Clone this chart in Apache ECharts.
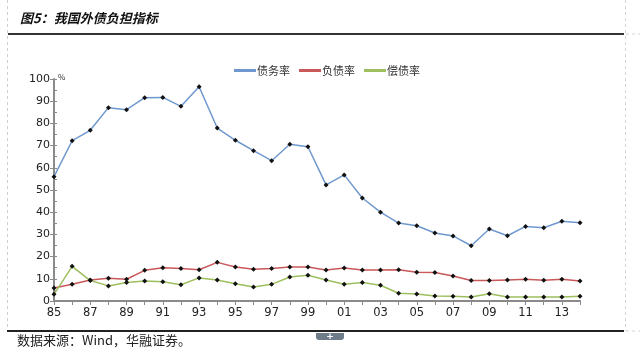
<!DOCTYPE html>
<html>
<head>
<meta charset="utf-8">
<script src="https://cdn.jsdelivr.net/npm/echarts@6/dist/echarts.min.js"></script>
<style>
  html, body { margin: 0; padding: 0; background: #fff; }
  #chart { width: 640px; height: 354px; }
</style>
</head>
<body>
<div id="chart"></div>
<script>
// years 1985 - 2014, labelled as two digits
const years = ["85","86","87","88","89","90","91","92","93","94","95","96","97","98","99",
  "00","01","02","03","04","05","06","07","08","09","10","11","12","13","14"];

// 债务率
const debtRatio = [56.0, 72.2, 76.9, 87.1, 86.2, 91.6, 91.7, 87.7, 96.5, 77.9, 72.4, 67.7, 63.2, 70.6, 69.5,
  52.3, 56.8, 46.4, 40.0, 35.1, 33.9, 30.6, 29.3, 24.9, 32.4, 29.4, 33.6, 33.0, 35.9, 35.3];

// 负债率
const liabilityRatio = [5.9, 7.5, 9.5, 10.2, 9.8, 13.8, 15.0, 14.6, 14.1, 17.4, 15.3, 14.3, 14.6, 15.3, 15.3,
  14.0, 14.9, 14.0, 14.0, 14.1, 12.9, 12.8, 11.3, 9.2, 9.2, 9.5, 9.8, 9.3, 9.8, 9.0];

// 偿债率
const serviceRatio = [3.0, 15.6, 9.2, 6.8, 8.3, 9.0, 8.7, 7.3, 10.4, 9.5, 7.8, 6.3, 7.5, 10.8, 11.6,
  9.5, 7.5, 8.3, 7.1, 3.5, 3.2, 2.3, 2.1, 1.8, 3.3, 1.8, 1.8, 1.8, 1.8, 2.1];

const seriesNames = ["债务率", "负债率", "偿债率"];
const seriesColors = ["#6f98cf", "#c9585a", "#9dbf5e"];

const chart = echarts.init(document.getElementById("chart"));

const makeSeries = (name, data, color) => ({
  name: name,
  type: "line",
  data: data,
  symbol: "diamond",
  symbolSize: 5,
  itemStyle: { color: "#111" },
  lineStyle: { color: color, width: 1.5 },
  emphasis: { disabled: true },
});

const option = {
  animation: false,
  textStyle: { fontFamily: "Noto Sans CJK SC, Noto Sans, sans-serif" },
  color: seriesColors,
  legend: {
    top: 60,
    left: 229,
    itemWidth: 22,
    itemHeight: 3,
    itemGap: 9,
    icon: "path://M0,0 L22,0 L22,3 L0,3 Z",
    textStyle: { fontSize: 11, color: "#333", padding: [0, 0, 0, -4] },
    data: seriesNames.map((n, i) => ({ name: n, itemStyle: { color: seriesColors[i] } })),
  },
  grid: { left: 54, right: 60, top: 79, bottom: 53 },
  xAxis: {
    type: "category",
    data: years,
    boundaryGap: false,
    axisLine: { lineStyle: { color: "#8a8a8a", width: 2 } },
    axisTick: { show: true, interval: 0, length: 4, lineStyle: { color: "#8a8a8a" } },
    axisLabel: { interval: 1, color: "#222", fontSize: 11.5, fontFamily: "DejaVu Sans", margin: 6 },
  },
  yAxis: [
    {
      type: "value",
      min: 0,
      max: 100,
      interval: 10,
      name: "%",
      nameLocation: "end",
      nameGap: -2,
      nameTextStyle: { fontSize: 8, color: "#333", align: "left", padding: [0, 0, 0, 4] },
      axisLine: { show: true, lineStyle: { color: "#8a8a8a", width: 2 } },
      axisTick: { show: true, length: 4, lineStyle: { color: "#8a8a8a" } },
      axisLabel: { color: "#222", fontSize: 11, fontFamily: "DejaVu Sans", margin: 4 },
      splitLine: { show: false },
    },
    {
      // inner minor ticks every 5
      type: "value",
      position: "left",
      min: 0,
      max: 100,
      interval: 5,
      axisLine: { show: false },
      axisTick: { show: true, inside: true, length: 3, lineStyle: { color: "#8a8a8a" } },
      axisLabel: { show: false },
      splitLine: { show: false },
    },
  ],
  series: [
    makeSeries(seriesNames[0], debtRatio, seriesColors[0]),
    makeSeries(seriesNames[1], liabilityRatio, seriesColors[1]),
    makeSeries(seriesNames[2], serviceRatio, seriesColors[2]),
  ],
  graphic: [
    {
      type: "text",
      left: 20,
      top: 12,
      style: {
        text: "图5：我国外债负担指标",
        font: "italic bold 13px 'Noto Sans CJK SC'",
        fill: "#111",
      },
    },
    { type: "line", shape: { x1: 8, y1: 34, x2: 624, y2: 34 }, style: { stroke: "#333", lineWidth: 2 } },
    { type: "line", shape: { x1: 7.5, y1: 0, x2: 7.5, y2: 330 }, style: { stroke: "#cfcfcf", lineWidth: 1, lineDash: [3, 3] } },
    { type: "line", shape: { x1: 625.5, y1: 0, x2: 625.5, y2: 331 }, style: { stroke: "#d4d4d4", lineWidth: 1, lineDash: [3, 3] } },
    { type: "line", shape: { x1: 626, y1: 34, x2: 640, y2: 34 }, style: { stroke: "#d4d4d4", lineWidth: 1, lineDash: [3, 3] } },
    { type: "line", shape: { x1: 626, y1: 331, x2: 640, y2: 331 }, style: { stroke: "#d4d4d4", lineWidth: 1, lineDash: [3, 3] } },
    { type: "line", shape: { x1: 7, y1: 331, x2: 624, y2: 331 }, style: { stroke: "#222", lineWidth: 2 } },
    { type: "rect", shape: { x: 316, y: 333, width: 28, height: 7, r: [0, 0, 3, 3] }, style: { fill: "#6e7c89" } },
    { type: "text", x: 330, y: 336.5, style: { text: "+", font: "bold 9px DejaVu Sans", fill: "#fff", align: "center", verticalAlign: "middle" } },
    {
      type: "text",
      left: 17,
      top: 334,
      style: {
        text: "数据来源：Wind，华融证券。",
        font: "13px 'Noto Sans CJK SC'",
        fill: "#222",
      },
    },
  ],
};

chart.setOption(option);
</script>
</body>
</html>
